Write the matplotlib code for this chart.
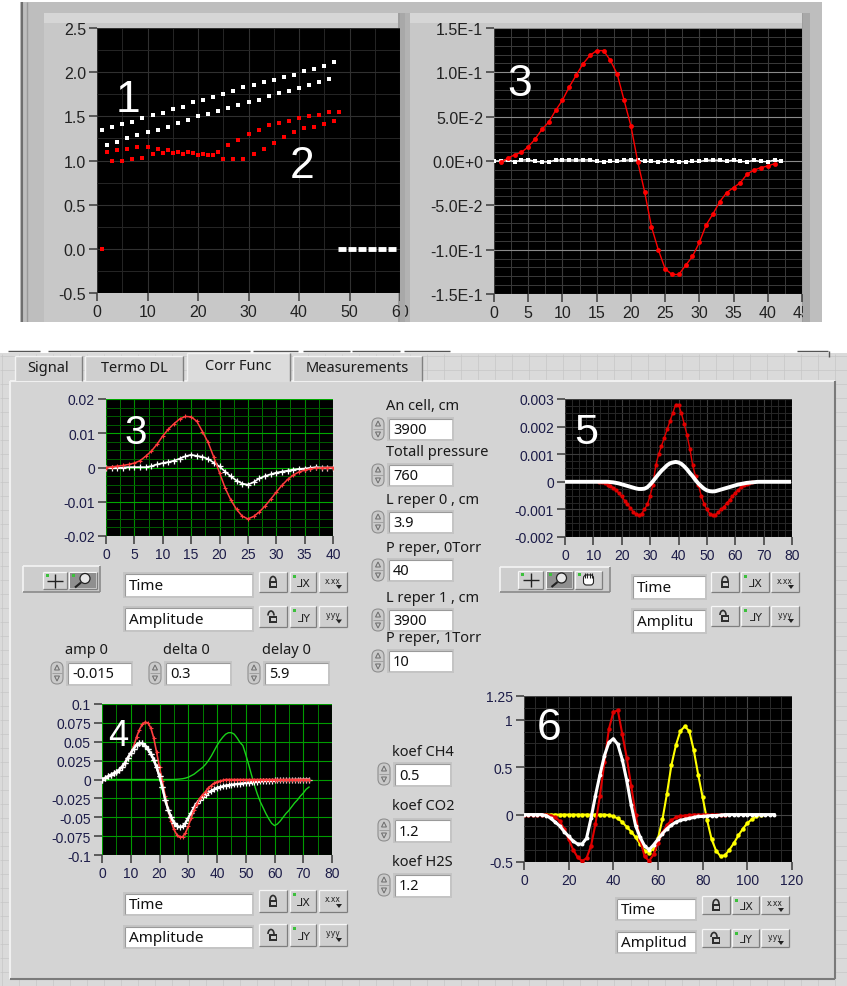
import matplotlib
matplotlib.use("Agg")
import matplotlib.pyplot as plt
from matplotlib.patches import Rectangle, FancyBboxPatch, Polygon, Arc, Circle
from matplotlib.ticker import MultipleLocator

W, H = 847, 987

# ================= DATA =================
# Graph "1 / 2" (top-left)
g1_white_up_x = [1, 3, 5, 7, 9, 11, 13, 15, 17, 19, 21, 23, 25, 27, 29, 31, 33, 35, 37, 39, 41, 43, 45, 47]
g1_white_up_y = [1.35, 1.38, 1.41, 1.44, 1.48, 1.51, 1.54, 1.58, 1.61, 1.66, 1.69, 1.72, 1.75, 1.79,
                 1.83, 1.86, 1.89, 1.91, 1.94, 1.97, 2.01, 2.04, 2.07, 2.11]
g1_white_lo_x = [2, 4, 6, 8, 10, 12, 14, 16, 18, 20, 22, 24, 26, 28, 30, 32, 34, 36, 38, 40, 42, 44, 46]
g1_white_lo_y = [1.18, 1.21, 1.25, 1.29, 1.32, 1.35, 1.38, 1.43, 1.46, 1.50, 1.53, 1.56, 1.60, 1.63,
                 1.66, 1.69, 1.73, 1.76, 1.79, 1.82, 1.86, 1.89, 1.92]
g1_red_a_x = [2, 4, 6, 8, 10, 12, 14, 16, 18, 20, 22, 24, 26, 28, 30, 32, 34, 36, 38, 40, 42, 44, 46, 48]
g1_red_a_y = [1.10, 1.12, 1.13, 1.15, 1.15, 1.13, 1.12, 1.10, 1.10, 1.06, 1.06, 1.10, 1.17, 1.23,
              1.30, 1.35, 1.40, 1.43, 1.45, 1.48, 1.50, 1.51, 1.55, 1.55]
g1_red_b_x = [3, 5, 7, 9, 11, 13, 15, 17, 19, 21, 23, 25, 27, 29, 31, 33, 35, 37, 39, 41, 43, 45, 47]
g1_red_b_y = [0.99, 1.00, 1.02, 1.03, 1.07, 1.09, 1.09, 1.07, 1.09, 1.07, 1.06, 1.02, 1.02, 1.02,
              1.07, 1.13, 1.20, 1.27, 1.32, 1.37, 1.38, 1.41, 1.45]
g1_red_zero_x = [1]
g1_red_zero_y = [0.0]
g1_white_zero_x = [48.5, 50.5, 52.5, 54.5, 56.5, 58.5]
g1_white_zero_y = [0.0, 0.0, 0.0, 0.0, 0.0, 0.0]
g1_xticks = [0, 10, 20, 30, 40, 50, 60]
g1_xlabels = ["0", "10", "20", "30", "40", "50", "60"]
g1_yticks = [-0.5, 0.0, 0.5, 1.0, 1.5, 2.0, 2.5]
g1_ylabels = ["-0.5", "0.0", "0.5", "1.0", "1.5", "2.0", "2.5"]

# Graph "3" (top-right)
g3t_red_x = list(range(1, 42))
g3t_red_y = [-0.0015, 0.003, 0.007, 0.0097, 0.016, 0.0247, 0.0356, 0.044, 0.057, 0.0686, 0.0836,
             0.0967, 0.1095, 0.119, 0.1245, 0.1245, 0.1136, 0.098, 0.0686, 0.0397, -0.0008,
             -0.0345, -0.0739, -0.100, -0.1215, -0.128, -0.128, -0.1177, -0.1076, -0.0919,
             -0.072, -0.0596, -0.0457, -0.0356, -0.030, -0.0244, -0.0146, -0.0101, -0.0075,
             -0.0056, -0.003]
g3t_white_x = list(range(0, 43))
g3t_white_y = [0.0, 0.0, 0.0015, -0.001, 0.001, 0.0015, -0.0005, -0.001, -0.001, 0.001,
               0.0012, 0.0012, 0.001, 0.0012, 0.0012, -0.0005, -0.0008, -0.0005, -0.0005, 0.0008,
               0.0012, 0.0008, -0.0005, -0.0005, -0.0008, -0.0005, -0.0005, -0.0008, -0.0008, -0.0005,
               -0.0005, 0.0008, 0.001, 0.0008, -0.0005, 0.0012, -0.0005, -0.0008, 0.0008, -0.0005,
               -0.0008, 0.0012, -0.0005]
g3t_xticks = [0, 5, 10, 15, 20, 25, 30, 35, 40, 45]
g3t_xlabels = ["0", "5", "10", "15", "20", "25", "30", "35", "40", "45"]
g3t_yticks = [-0.15, -0.10, -0.05, 0.0, 0.05, 0.10, 0.15]
g3t_ylabels = ["-1.5E-1", "-1.0E-1", "-5.0E-2", "0.0E+0", "5.0E-2", "1.0E-1", "1.5E-1"]

# Graph "3" (Corr Func tab)
g3b_x = list(range(0, 41))
g3b_red_y = [0, 0.0002, 0.0004, 0.0006, 0.0009, 0.0013, 0.002, 0.0033, 0.0048, 0.0068, 0.0092,
             0.0112, 0.0128, 0.0142, 0.0149, 0.0148, 0.0135, 0.0105, 0.0073, 0.003, -0.0015,
             -0.006, -0.0095, -0.0122, -0.0142, -0.015, -0.0143, -0.013, -0.0113, -0.0093, -0.0072,
             -0.0052, -0.0035, -0.0022, -0.0013, -0.0008, -0.0004, -0.0002, -0.0001, 0, 0]
g3b_white_y = [0, -0.0001, -0.0002, 0, 0.0001, 0.0001, 0.0001, 0.0001, 0.0004, 0.0009, 0.0013,
               0.0016, 0.002, 0.0026, 0.0033, 0.0037, 0.0034, 0.0031, 0.0025, 0.0014, 0.0003,
               -0.0012, -0.0026, -0.0038, -0.0047, -0.005, -0.0043, -0.0032, -0.0025, -0.002, -0.0015,
               -0.0012, -0.0009, -0.0006, -0.0004, -0.0003, -0.0001, 0.0001, 0, 0, 0]
g3b_xticks = [0, 5, 10, 15, 20, 25, 30, 35, 40]
g3b_xlabels = ["0", "5", "10", "15", "20", "25", "30", "35", "40"]
g3b_yticks = [-0.02, -0.01, 0.0, 0.01, 0.02]
g3b_ylabels = ["-0.02", "-0.01", "0", "0.01", "0.02"]

# Graph "5"
g5_red_x = list(range(12, 67))
g5_red_y = [0, -0.00002, -0.00005, -0.0001, -0.00015, -0.00022, -0.0003, -0.00042, -0.00053,
            -0.00068, -0.0008, -0.00095, -0.00108, -0.00118, -0.00122, -0.00115, -0.001, -0.00082,
            -0.0005, -0.0001, 0.0006, 0.001, 0.0013, 0.0016, 0.0019, 0.0022, 0.0025, 0.0028, 0.0028,
            0.0025, 0.0021, 0.0017, 0.0012, 0.0006, 0.0002, -0.0001, -0.0005, -0.0008, -0.001,
            -0.00115, -0.00122, -0.0012, -0.0011, -0.001, -0.0009, -0.00078, -0.00065, -0.00052,
            -0.0004, -0.0003, -0.0002, -0.00013, -0.00008, -0.00004, -0.00001]
g5_white_x = list(range(0, 80))
g5_white_y = [0] * 16 + [-0.00001, -0.00002, -0.00004, -0.00006, -0.00009, -0.00012, -0.00015,
              -0.00018, -0.00021, -0.00024, -0.00026, -0.00026, -0.00025, -0.0002, -0.0001, 0.00002,
              0.00015, 0.00028, 0.0004, 0.0005, 0.0006, 0.00067, 0.0007, 0.00072, 0.0007, 0.00065,
              0.00056, 0.00045, 0.00032, 0.0002, 0.00006, -0.00006, -0.00016, -0.00025, -0.00031,
              -0.00034, -0.00035, -0.00034, -0.00031, -0.00028, -0.00025, -0.00022, -0.00019,
              -0.00016, -0.00013, -0.0001, -0.00008, -0.00006, -0.00004, -0.00003, -0.00002,
              -0.00001] + [0] * 12
g5_xticks = [0, 10, 20, 30, 40, 50, 60, 70, 80]
g5_xlabels = ["0", "10", "20", "30", "40", "50", "60", "70", "80"]
g5_yticks = [-0.002, -0.001, 0.0, 0.001, 0.002, 0.003]
g5_ylabels = ["-0.002", "-0.001", "0", "0.001", "0.002", "0.003"]

# Graph "4"
g4_x = list(range(0, 73))
g4_red_y = [0, 0.002, 0.004, 0.006, 0.008, 0.01, 0.013, 0.017, 0.022, 0.029, 0.035, 0.044, 0.056,
            0.066, 0.073, 0.076, 0.075, 0.068, 0.055, 0.036, 0.016, -0.002, -0.022, -0.04, -0.055,
            -0.066, -0.073, -0.076, -0.076, -0.071, -0.062, -0.051, -0.041, -0.032, -0.025, -0.02,
            -0.016, -0.011, -0.008, -0.005, -0.003, -0.002, -0.001] + [0] * 30
g4_white_y = [0, 0.002, 0.004, 0.006, 0.008, 0.01, 0.013, 0.017, 0.022, 0.029, 0.035, 0.041, 0.046,
              0.048, 0.048, 0.045, 0.04, 0.034, 0.026, 0.016, 0.004, -0.01, -0.027, -0.04, -0.05,
              -0.057, -0.061, -0.063, -0.062, -0.058, -0.051, -0.044, -0.037, -0.031, -0.027, -0.023,
              -0.02, -0.017, -0.015, -0.013, -0.011, -0.01, -0.009, -0.008, -0.0075, -0.007, -0.0065,
              -0.006, -0.0055, -0.005, -0.0045, -0.004, -0.0035, -0.003, -0.0027, -0.0024, -0.0021,
              -0.0018, -0.0016, -0.0014, -0.0012, -0.001, -0.0009, -0.0008, -0.0007, -0.0006,
              -0.0005, -0.0004, -0.0003, -0.0002, -0.0001, 0, 0]
g4_green_y = [0] * 26 + [0.0003, 0.0006, 0.001, 0.0018, 0.003, 0.005, 0.007, 0.01, 0.013, 0.016,
              0.02, 0.025, 0.031, 0.038, 0.045, 0.051, 0.056, 0.06, 0.062, 0.062, 0.06, 0.055, 0.049,
              0.045, 0.033, 0.02, 0.006, -0.007, -0.019, -0.029, -0.037, -0.045, -0.052, -0.058,
              -0.061, -0.059, -0.055, -0.05, -0.045, -0.041, -0.036, -0.031, -0.027, -0.022, -0.018,
              -0.013, -0.01]
g4_xticks = [0, 10, 20, 30, 40, 50, 60, 70, 80]
g4_xlabels = ["0", "10", "20", "30", "40", "50", "60", "70", "80"]
g4_yticks = [-0.1, -0.075, -0.05, -0.025, 0.0, 0.025, 0.05, 0.075, 0.1]
g4_ylabels = ["-0.1", "-0.075", "-0.05", "-0.025", "0", "0.025", "0.05", "0.075", "0.1"]

# Graph "6"
g6_red_x = list(range(0, 91, 2))
g6_red_y = [0, 0, 0, 0, 0, 0, -0.01, -0.03, -0.07, -0.15, -0.26, -0.37, -0.45, -0.49, -0.46, -0.33,
            -0.1, 0.2, 0.55, 0.9, 1.08, 1.1, 0.85, 0.6, 0.3, 0.0, -0.27, -0.44, -0.49, -0.42, -0.3,
            -0.19, -0.11, -0.06, -0.03, -0.015, -0.01, -0.005, 0, 0, 0, 0, 0, 0, 0, 0]
g6_white_x = list(range(0, 113, 2))
g6_white_y = [0, 0, 0, 0, 0, -0.01, -0.04, -0.08, -0.12, -0.18, -0.23, -0.28, -0.31, -0.31, -0.25,
              -0.04, 0.2, 0.42, 0.62, 0.76, 0.8, 0.74, 0.58, 0.36, 0.1, -0.12, -0.24, -0.33, -0.37,
              -0.32, -0.26, -0.2, -0.15, -0.11, -0.08, -0.06, -0.05, -0.04, -0.03, -0.02, -0.02,
              -0.015, -0.01, -0.01, -0.005] + [0] * 12
g6_yellow_x = list(range(10, 107, 2))
g6_yellow_y = [0] * 14 + [-0.005, -0.02, -0.04, -0.08, -0.13, -0.18, -0.24, -0.31, -0.38, -0.4,
               -0.36, -0.25, -0.05, 0.22, 0.52, 0.73, 0.88, 0.93, 0.88, 0.68, 0.42, 0.18, -0.06,
               -0.26, -0.38, -0.44, -0.43, -0.37, -0.3, -0.22, -0.15, -0.09, -0.05, -0.02, 0]
g6_xticks = [0, 20, 40, 60, 80, 100, 120]
g6_xlabels = ["0", "20", "40", "60", "80", "100", "120"]
g6_yticks = [-0.5, 0.0, 0.5, 1.0, 1.25]
g6_ylabels = ["-0.5", "0", "0.5", "1", "1.25"]

# Front-panel texts
tab_names = ["Signal", "Termo DL", "Corr Func", "Measurements"]
right_labels = ["An cell, cm", "Totall pressure", "L reper 0 , cm", "P reper, 0Torr",
                "L reper 1 , cm", "P reper, 1Torr"]
right_values = ["3900", "760", "3.9", "40", "3900", "10"]
mid_labels = ["amp 0", "delta 0", "delay 0"]
mid_values = ["-0.015", "0.3", "5.9"]
koef_labels = ["koef CH4", "koef CO2", "koef H2S"]
koef_values = ["0.5", "1.2", "1.2"]

# ================= FIGURE =================
UI = "Noto Sans"
TICKF = "Liberation Sans"
fig = plt.figure(figsize=(W / 100, H / 100), dpi=100)
fig.patch.set_facecolor("white")

bg = fig.add_axes([0, 0, 1, 1], zorder=0)
bg.set_xlim(0, W)
bg.set_ylim(H, 0)
bg.axis("off")

ov = fig.add_axes([0, 0, 1, 1], zorder=10)
ov.set_xlim(0, W)
ov.set_ylim(H, 0)
ov.axis("off")
ov.patch.set_visible(False)


def rect(ax, x0, y0, x1, y1, fc, ec="none", lw=0, z=1):
    ax.add_patch(Rectangle((x0, y0), x1 - x0, y1 - y0, facecolor=fc, edgecolor=ec, linewidth=lw, zorder=z))


def line(ax, xs, ys, c, lw=1.0, z=2):
    ax.plot(xs, ys, color=c, lw=lw, zorder=z, solid_capstyle="butt")


def bevel(ax, x0, y0, x1, y1, fc, hi="#f4f4f4", lo="#8a8a8a", lw=1.2, z=1):
    rect(ax, x0, y0, x1, y1, fc, z=z)
    line(ax, [x0, x1], [y0, y0], hi, lw, z + 0.1)
    line(ax, [x0, x0], [y0, y1], hi, lw, z + 0.1)
    line(ax, [x0, x1], [y1, y1], lo, lw, z + 0.1)
    line(ax, [x1, x1], [y0, y1], lo, lw, z + 0.1)


def frame(ax, x0, y0, x1, y1, fc="#cdcdcd", z=1):
    bevel(ax, x0, y0, x1, y1, fc, z=z)
    rect(ax, x1 - 9, y0 + 2, x1 - 5, y1 - 1, "#b9b9b9", z=z + 0.2)
    rect(ax, x1 - 5, y0 + 2, x1 - 1, y1 - 1, "#9c9c9c", z=z + 0.2)
    line(ax, [x0 + 1, x1 - 9], [y0 + 2, y0 + 2], "#e6e6e6", 1.5, z + 0.2)


def sunken_box(ax, x0, y0, x1, y1, text, fs=10.5):
    rect(ax, x0 - 2, y0 - 2, x1 + 2, y1 + 2, "#c4c4c4", z=3)
    rect(ax, x0, y0, x1, y1, "white", z=3.1)
    line(ax, [x0, x1], [y0, y0], "#9a9a9a", 0.8, 3.2)
    line(ax, [x0, x0], [y0, y1], "#9a9a9a", 0.8, 3.2)
    ax.text(x0 + 4, (y0 + y1) / 2 + 0.5, text, fontsize=fs, family=UI, color="#111111",
            va="center", ha="left", zorder=3.3)


def spinner(ax, xc, yc):
    ax.add_patch(FancyBboxPatch((xc - 6, yc - 11), 12, 22, boxstyle="round,pad=0,rounding_size=6",
                                fc="#cacaca", ec="#8f8f8f", lw=0.8, zorder=3))
    line(ax, [xc - 5, xc + 5], [yc, yc], "#9a9a9a", 0.6, 3.1)
    ax.add_patch(Polygon([(xc - 2.5, yc - 3), (xc + 2.5, yc - 3), (xc, yc - 8)], closed=True,
                         fc="none", ec="#6a6a6a", lw=0.7, zorder=3.2))
    ax.add_patch(Polygon([(xc - 2.5, yc + 3), (xc + 2.5, yc + 3), (xc, yc + 8)], closed=True,
                         fc="none", ec="#6a6a6a", lw=0.7, zorder=3.2))


def button(ax, x0, y0, x1, y1, kind):
    bevel(ax, x0, y0, x1, y1, "#cfcfcf", hi="#f7f7f7", lo="#7e7e7e", lw=0.9, z=3)
    xc, yc = (x0 + x1) / 2, (y0 + y1) / 2
    if kind in ("lock", "unlock"):
        rect(ax, xc - 4, yc - 1, xc + 4, yc + 6, "#2e2e2e", z=3.3)
        rect(ax, xc - 2.5, yc + 1, xc + 2.5, yc + 4, "#cfcfcf", z=3.4)
        dx = 0 if kind == "lock" else -2
        ax.add_patch(Arc((xc + dx, yc - 1), 6, 9, theta1=180, theta2=360, color="#2e2e2e", lw=1.2, zorder=3.3))
    elif kind in ("LX", "LY"):
        rect(ax, x0 + 3, y0 + 3, x0 + 6, y0 + 6, "#3cc03c", z=3.3)
        ax.text(xc + 1, yc + 1, "\u2143" + kind[1], fontsize=8, family="DejaVu Sans", color="#222222",
                ha="center", va="center", zorder=3.3)
    elif kind in ("x.xx", "y.yy"):
        ax.text(xc, yc - 2, kind, fontsize=5.5, family="DejaVu Sans", color="#222222",
                ha="center", va="center", zorder=3.3)
        ax.add_patch(Polygon([(xc + 3, yc + 3), (xc + 9, yc + 3), (xc + 6, yc + 7)], closed=True,
                             fc="#222222", ec="none", zorder=3.3))
    elif kind == "cross":
        line(ax, [xc - 8, xc + 8], [yc, yc], "#222222", 1.0, 3.3)
        line(ax, [xc, xc], [yc - 7, yc + 7], "#222222", 1.0, 3.3)
        rect(ax, x0 + 3, y0 + 2, x0 + 6, y0 + 5, "#3cc03c", z=3.3)
    elif kind == "zoom":
        rect(ax, x0 + 1, y0 + 1, x1 - 1, y1 - 1, "#8f8f8f", z=3.2)
        ax.add_patch(Circle((xc + 2, yc - 2), 5, fc="#e8e8e8", ec="#222222", lw=0.9, zorder=3.3))
        line(ax, [xc - 2, xc - 8], [yc + 2, yc + 7], "#222222", 1.5, 3.3)
        rect(ax, x0 + 3, y0 + 2, x0 + 6, y0 + 5, "#3cc03c", z=3.4)
    elif kind == "hand":
        ax.add_patch(FancyBboxPatch((xc - 5, yc - 5), 10, 10, boxstyle="round,pad=0,rounding_size=3",
                                    fc="white", ec="#222222", lw=0.8, zorder=3.3))
        for k in range(4):
            line(ax, [xc - 4 + 2.6 * k, xc - 4 + 2.6 * k], [yc - 7, yc - 2], "#222222", 0.8, 3.4)
        rect(ax, x0 + 3, y0 + 2, x0 + 6, y0 + 5, "#3cc03c", z=3.4)


def graph(l, t, r, b, xlim, ylim, xt, xtl, yt, ytl, xminor, yminor,
          gxM, gxm, gyM, gym, fs, tcol, tickcol="#3a3a3a"):
    ax = fig.add_axes([l / W, 1 - b / H, (r - l) / W, (b - t) / H], zorder=2)
    ax.set_facecolor("black")
    ax.set_xlim(*xlim)
    ax.set_ylim(*ylim)
    ax.set_xticks(xt)
    ax.set_xticklabels(xtl)
    ax.set_yticks(yt)
    ax.set_yticklabels(ytl)
    if xminor:
        ax.xaxis.set_minor_locator(MultipleLocator(xminor))
        ax.xaxis.grid(True, which="minor", color=gxm, lw=0.7)
    if yminor:
        ax.yaxis.set_minor_locator(MultipleLocator(yminor))
        ax.yaxis.grid(True, which="minor", color=gym, lw=0.7)
    ax.xaxis.grid(True, which="major", color=gxM, lw=0.8)
    ax.yaxis.grid(True, which="major", color=gyM, lw=0.8)
    ax.set_axisbelow(True)
    for s in ax.spines.values():
        s.set_visible(False)
    ax.tick_params(which="major", direction="out", length=6, width=1.1, color=tickcol,
                   labelsize=fs, labelcolor=tcol, pad=2)
    ax.tick_params(which="minor", length=0)
    for lab in ax.get_xticklabels() + ax.get_yticklabels():
        lab.set_fontfamily(TICKF)
    return ax


# ---------- top screenshot background ----------
rect(bg, 20, 3, 822, 323, "#bebebe")
line(bg, [22, 22], [3, 323], "#6f6f6f", 1.5)
line(bg, [27, 27], [3, 323], "#9a9a9a", 1.0)
rect(bg, 44, 14, 405, 323, "#c8c8c8")
rect(bg, 44, 14, 405, 24, "#d6d6d6")
rect(bg, 398, 14, 405, 323, "#9e9e9e")
rect(bg, 405, 14, 410, 323, "#b2b2b2")
rect(bg, 410, 14, 810, 323, "#c8c8c8")
rect(bg, 410, 14, 810, 24, "#d6d6d6")
rect(bg, 802, 14, 810, 323, "#9e9e9e")

# ---------- bottom screenshot background ----------
rect(bg, 0, 345, W, H, "#dadada")
for gx in range(2, W, 17):
    line(bg, [gx, gx], [355, H], "#c6c6c6", 0.5, 1.2)
for gy in range(357, H, 14):
    line(bg, [0, W], [gy, gy], "#c6c6c6", 0.5, 1.2)
rect(bg, 0, 345, W, 354, "white", z=1.3)
for (a, c) in [(8, 40), (48, 250), (253, 298), (303, 350), (352, 400), (404, 450), (797, 828)]:
    line(bg, [a, c], [352, 352], "#555555", 1.0, 1.4)
line(bg, [829, 829], [352, 358], "#555555", 1.0, 1.4)

# tab panel
bevel(bg, 10, 382, 835, 980, "#d4d4d4", hi="#f0f0f0", lo="#7a7a7a", lw=1.5, z=1.5)
tab_spans = [(15, 82), (85, 183), (187, 290), (293, 422)]
for name, (a, c) in zip(tab_names, tab_spans):
    sel = name == "Corr Func"
    top = 354 if sel else 357
    fc = "#dcdcdc" if sel else "#cfcfcf"
    rect(bg, a, top, c, 383 if sel else 382, fc, z=1.6)
    line(bg, [a, a], [top, 382], "#f3f3f3", 1.0, 1.7)
    line(bg, [a, c], [top, top], "#f3f3f3", 1.0, 1.7)
    line(bg, [c, c], [top, 382], "#808080", 1.0, 1.7)
    bg.text((a + c) / 2, top + 12, name, fontsize=10.5, family=UI, color="#1a1a1a",
            ha="center", va="center", zorder=1.8)

# Corr Func graph 3 frame + controls
frame(bg, 23, 389, 366, 565)
bevel(bg, 23, 567, 100, 593, "#cdcdcd", z=1.6)
button(bg, 43, 573, 67, 590, "cross")
button(bg, 69, 573, 97, 590, "zoom")
frame(bg, 102, 567, 366, 638)
sunken_box(bg, 125, 575, 252, 597, "Time", 11)
sunken_box(bg, 125, 609, 252, 631, "Amplitude", 11)
for (y0, y1, kinds) in [(573, 593, ("lock", "LX", "x.xx")), (607, 628, ("unlock", "LY", "y.yy"))]:
    for (a, c), k in zip([(259, 287), (290, 316), (319, 347)], kinds):
        button(bg, a, y0, c, y1, k)

# amp/delta/delay controls
for lab, val, (lx, bx0, bx1, sx) in zip(mid_labels, mid_values,
                                        [(86, 68, 131, 57), (186, 166, 230, 155), (286, 265, 328, 254)]):
    bg.text(lx, 651, lab, fontsize=10.5, family=UI, color="#1a1a1a", ha="center", va="center", zorder=3)
    spinner(bg, sx, 674)
    sunken_box(bg, bx0, 664, bx1, 685, val, 10.5)

# right column numeric controls
for lab, val, ly, by in zip(right_labels, right_values,
                            [407, 453, 500, 548, 598, 638], [430, 476, 523, 571, 621, 662]):
    bg.text(386, ly, lab, fontsize=10.5, family=UI, color="#1a1a1a", ha="left", va="center", zorder=3)
    spinner(bg, 378, by)
    sunken_box(bg, 389, by - 10, 452, by + 10, val, 10.5)

# graph 5 frame + controls
frame(bg, 500, 389, 825, 565)
bevel(bg, 500, 568, 610, 593, "#cdcdcd", z=1.6)
button(bg, 518, 572, 543, 590, "cross")
button(bg, 546, 572, 573, 590, "zoom")
button(bg, 575, 572, 602, 590, "hand")
frame(bg, 612, 568, 818, 640)
sunken_box(bg, 633, 577, 705, 599, "Time", 11)
sunken_box(bg, 633, 611, 705, 633, "Amplitu", 11)
for (y0, y1, kinds) in [(573, 593, ("lock", "LX", "x.xx")), (607, 627, ("unlock", "LY", "y.yy"))]:
    for (a, c), k in zip([(711, 739), (741, 769), (771, 799)], kinds):
        button(bg, a, y0, c, y1, k)

# graph 4 frame + controls
frame(bg, 20, 693, 365, 883)
frame(bg, 102, 887, 365, 957)
sunken_box(bg, 125, 895, 252, 915, "Time", 11)
sunken_box(bg, 125, 928, 252, 948, "Amplitude", 11)
for (y0, y1, kinds) in [(891, 913, ("lock", "LX", "x.xx")), (925, 947, ("unlock", "LY", "y.yy"))]:
    for (a, c), k in zip([(259, 287), (290, 316), (319, 347)], kinds):
        button(bg, a, y0, c, y1, k)

# koef controls
for lab, val, ly, by in zip(koef_labels, koef_values, [752, 807, 862], [775, 831, 886]):
    bg.text(392, ly, lab, fontsize=10.5, family=UI, color="#1a1a1a", ha="left", va="center", zorder=3)
    spinner(bg, 384, by)
    sunken_box(bg, 395, by - 10, 450, by + 11, val, 10.5)

# graph 6 frame + controls
frame(bg, 467, 685, 825, 889)
frame(bg, 593, 890, 808, 962)
sunken_box(bg, 617, 900, 695, 920, "Time", 11)
sunken_box(bg, 617, 933, 695, 953, "Amplitud", 11)
for (y0, y1, kinds) in [(897, 915, ("lock", "LX", "x.xx")), (930, 948, ("unlock", "LY", "y.yy"))]:
    for (a, c), k in zip([(702, 730), (732, 759), (761, 789)], kinds):
        button(bg, a, y0, c, y1, k)

# ================= GRAPHS =================
TOPCOL = "#222222"
BOTCOL = "#1c1c48"

# Graph 1/2
ax1 = graph(97, 29, 400, 294, (0, 60), (-0.5, 2.5), g1_xticks, g1_xlabels, g1_yticks, g1_ylabels,
            5, 0.25, "#303030", "#262626", "#303030", "#262626", 11.5, TOPCOL)
ax1.plot(g1_white_up_x, g1_white_up_y, "s", color="white", ms=3.2, mew=0)
ax1.plot(g1_white_lo_x, g1_white_lo_y, "s", color="white", ms=3.2, mew=0)
ax1.plot(g1_red_a_x, g1_red_a_y, "s", color="#ff0000", ms=3.2, mew=0)
ax1.plot(g1_red_b_x, g1_red_b_y, "s", color="#ff0000", ms=3.2, mew=0)
ax1.plot(g1_red_zero_x, g1_red_zero_y, "s", color="#ff0000", ms=3.2, mew=0)
ax1.plot(g1_white_zero_x, g1_white_zero_y, "_", color="white", ms=6, mew=3.5)

# Graph 3 top
ax3t = graph(494, 29, 802, 295, (0, 45), (-0.15, 0.15), g3t_xticks, g3t_xlabels, g3t_yticks, g3t_ylabels,
             2.5, 0.01, "#3a3a3a", "#3a3a3a", "#8a8a8a", "#3a3a3a", 11.5, TOPCOL)
ax3t.plot(g3t_white_x, g3t_white_y, "-s", color="white", lw=1.0, ms=3.3, mew=0)
ax3t.plot(g3t_red_x, g3t_red_y, "-o", color="#ff0000", lw=1.0, ms=3.5, mew=0)

# Graph 3 (Corr Func)
ax3b = graph(106, 400, 333, 537, (0, 40), (-0.02, 0.02), g3b_xticks, g3b_xlabels, g3b_yticks, g3b_ylabels,
             2.5, 0.0025, "#008c00", "#007400", "#00a800", "#005c00", 10, BOTCOL)
ax3b.plot(g3b_x, g3b_white_y, "-+", color="white", lw=1.2, ms=4, mew=0.9)
ax3b.plot(g3b_x, g3b_red_y, "-+", color="#ff3c3c", lw=1.1, ms=3, mew=0.8)

# Graph 5
ax5 = graph(565, 400, 792, 538, (0, 80), (-0.002, 0.003), g5_xticks, g5_xlabels, g5_yticks, g5_ylabels,
            2.5, 0.00025, "#3c3c3c", "#272727", "#3c3c3c", "#272727", 10, BOTCOL)
ax5.plot(g5_red_x, g5_red_y, "-o", color="#e00000", lw=1.0, ms=3, mew=0)
ax5.plot(g5_white_x, g5_white_y, "-", color="white", lw=2.8)

# Graph 4
ax4 = graph(102, 705, 332, 856, (0, 80), (-0.1, 0.1), g4_xticks, g4_xlabels, g4_yticks, g4_ylabels,
            5, None, "#009c00", "#007c00", "#009c00", "#009c00", 10, BOTCOL)
ax4.plot(g4_x, g4_green_y, "-", color="#19d019", lw=1.0)
ax4.plot(g4_x, g4_white_y, "-+", color="white", lw=1.6, ms=4, mew=0.9)
ax4.plot(g4_x, g4_red_y, "-+", color="#ff4040", lw=1.2, ms=3.5, mew=0.8)
ax4.plot(g4_x[:27], g4_white_y[:27], "-+", color="white", lw=1.6, ms=4, mew=0.9)

# Graph 6
ax6 = graph(524, 697, 792, 863, (0, 120), (-0.5, 1.25), g6_xticks, g6_xlabels, g6_yticks, g6_ylabels,
            5, 0.125, "#454545", "#2a2a2a", "#454545", "#2a2a2a", 10, BOTCOL)
ax6.plot(g6_yellow_x, g6_yellow_y, "-o", color="#ffff00", lw=1.5, ms=3.2, mew=0)
ax6.plot(g6_red_x, g6_red_y, "-o", color="#e00000", lw=1.5, ms=3.2, mew=0)
ax6.plot(g6_white_x, g6_white_y, "-o", color="white", lw=2.2, ms=2.8, mew=0)

# ================= OVERLAY =================
rect(ov, 0, 323, W, 345, "white", z=5)
rect(ov, 400, 14, 405, 323, "#a8a8a8", z=5)
rect(ov, 803, 14, 810, 323, "#a8a8a8", z=5)
for s, x, y, fs in [("1", 128, 100, 32), ("2", 302, 167, 32), ("3", 520, 84, 32),
                    ("3", 136, 433, 29), ("5", 586, 433, 31), ("4", 118, 736, 26), ("6", 549, 729, 32)]:
    ov.text(x, y, s, fontsize=fs, family="Liberation Sans", color="white", ha="center", va="center", zorder=6)

fig.savefig("out.png", dpi=100, facecolor="white")
